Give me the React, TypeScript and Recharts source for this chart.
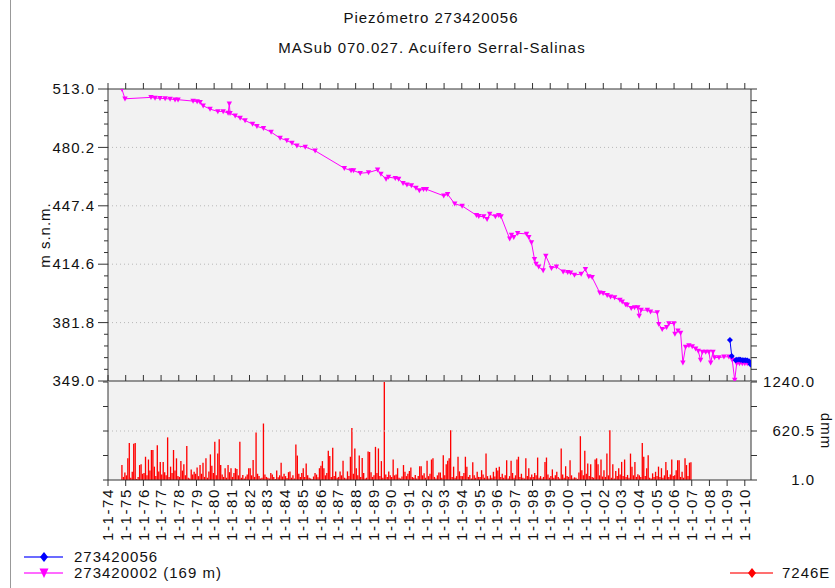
import React from 'react';
import { LineChart, Line, BarChart, Bar, XAxis, YAxis, ReferenceLine } from 'recharts';

// ---------- data ----------
const yearTicks = [
  1974, 1975, 1976, 1977, 1978, 1979, 1980, 1981, 1982, 1983, 1984, 1985, 1986,
  1987, 1988, 1989, 1990, 1991, 1992, 1993, 1994, 1995, 1996, 1997, 1998, 1999,
  2000, 2001, 2002, 2003, 2004, 2005, 2006, 2007, 2008, 2009, 2010,
];
const levelMajor = [349.0, 381.8, 414.6, 447.4, 480.2, 513.0];
const rainMajor = [1.0, 620.5, 1240.0];

// Piezómetro 273420002 (169 m): [fecha decimal, cota m s.n.m.]
const piezo002 = [
  [1974.79, 512.8], [1974.96, 507.5], [1976.43, 508.3], [1976.66, 507.9], [1976.94, 507.8],
  [1977.23, 507.6], [1977.51, 507.4], [1977.79, 507.0], [1977.96, 507.0], [1978.81, 506.2],
  [1979.04, 506.0], [1979.21, 505.6], [1979.38, 503.6], [1979.77, 501.7], [1980.21, 500.4],
  [1980.51, 500.4], [1980.79, 499.5], [1980.86, 504.7], [1980.9, 499.3], [1981.19, 498.0],
  [1981.47, 496.7], [1981.75, 495.3], [1982.17, 493.3], [1982.42, 492.0], [1982.79, 490.9],
  [1983.22, 488.8], [1983.73, 485.4], [1984.11, 484.1], [1984.4, 482.6], [1984.68, 481.1],
  [1985.15, 480.4], [1985.71, 478.3], [1987.36, 468.5], [1987.74, 467.2], [1987.88, 467.2],
  [1988.26, 465.7], [1988.73, 466.1], [1989.24, 467.6], [1989.43, 465.2], [1989.72, 462.4],
  [1989.86, 463.5], [1990.24, 462.9], [1990.43, 462.4], [1990.68, 460.1], [1990.9, 459.2],
  [1991.15, 458.8], [1991.41, 457.3], [1991.6, 456.0], [1991.84, 456.7], [1992.0, 456.7],
  [1992.98, 453.0], [1993.2, 453.9], [1993.6, 448.5], [1994.02, 447.3], [1994.83, 442.1],
  [1994.96, 441.5], [1995.24, 441.3], [1995.43, 439.8], [1995.58, 442.8], [1995.9, 441.3],
  [1996.09, 442.1], [1996.22, 441.3], [1996.71, 428.8], [1996.81, 431.0], [1996.94, 429.7],
  [1997.16, 432.0], [1997.66, 431.6], [1997.79, 429.7], [1997.94, 426.7], [1998.11, 417.4],
  [1998.2, 414.7], [1998.35, 413.2], [1998.6, 411.0], [1998.75, 419.2], [1999.07, 412.3],
  [1999.35, 413.2], [1999.73, 410.4], [1999.99, 410.0], [2000.15, 409.8], [2000.37, 408.5],
  [2000.75, 409.1], [2000.99, 411.7], [2001.18, 407.6], [2001.37, 407.2], [2001.8, 398.6],
  [2001.99, 398.2], [2002.22, 397.1], [2002.41, 396.3], [2002.64, 395.8], [2002.94, 394.5],
  [2003.07, 393.5], [2003.26, 392.0], [2003.35, 391.6], [2003.58, 389.8], [2003.77, 390.3],
  [2003.95, 390.3], [2004.03, 385.5], [2004.14, 388.8], [2004.49, 388.8], [2004.67, 387.9],
  [2005.05, 387.5], [2005.14, 380.9], [2005.33, 378.0], [2005.58, 379.1], [2005.71, 381.3],
  [2005.99, 381.3], [2006.05, 375.3], [2006.22, 377.2], [2006.37, 376.0], [2006.5, 359.2],
  [2006.65, 368.0], [2006.84, 368.9], [2007.03, 368.4], [2007.22, 367.1], [2007.37, 365.8],
  [2007.5, 360.7], [2007.6, 365.3], [2007.79, 365.3], [2007.97, 365.3], [2008.07, 359.2],
  [2008.2, 365.3], [2008.29, 362.2], [2008.54, 362.2], [2008.82, 362.6], [2009.1, 362.6],
  [2009.29, 360.7], [2009.43, 349.5], [2009.54, 358.8], [2009.7, 358.8], [2009.86, 358.8],
  [2010.0, 358.8], [2010.14, 358.8], [2010.29, 358.5],
];

// Piezómetro 273420056
const piezo056 = [
  [2009.16, 372.0], [2009.26, 363.0], [2009.48, 360.7], [2009.55, 360.9], [2009.67, 361.1],
  [2009.76, 361.0], [2009.86, 360.7], [2009.95, 360.6], [2010.05, 360.7], [2010.14, 360.5],
  [2010.24, 360.1], [2010.33, 358.3],
];

// Pluviómetro 7246E, dmm mensuales (desde octubre 1974)
const rainFirstMonth = 9;
const r1974 = [190, 40, 95];
const r1975 = [60, 275, 470, 30, 105, 460, 470, 15, 40, 190, 200, 80];
const r1976 = [90, 295, 60, 260, 120, 380, 380, 170, 50, 440, 110, 230];
const r1977 = [70, 230, 100, 60, 540, 40, 170, 90, 380, 120, 275, 50];
const r1978 = [40, 240, 120, 200, 60, 430, 30, 20, 135, 70, 105, 80];
const r1979 = [160, 50, 190, 80, 220, 40, 275, 30, 110, 325, 180, 90];
const r1980 = [485, 60, 335, 515, 190, 70, 40, 150, 30, 190, 100, 150];
const r1981 = [40, 90, 150, 140, 60, 485, 30, 65, 20, 45, 70, 150];
const r1982 = [150, 60, 255, 40, 600, 80, 50, 20, 30, 715, 70, 40];
const r1983 = [30, 20, 90, 70, 40, 15, 120, 35, 60, 220, 45, 80];
const r1984 = [50, 25, 100, 110, 30, 60, 20, 450, 310, 80, 40, 90];
const r1985 = [150, 40, 210, 60, 30, 20, 10, 45, 90, 70, 35, 150];
const r1986 = [180, 240, 150, 60, 90, 370, 305, 40, 410, 50, 110, 30];
const r1987 = [40, 110, 60, 245, 30, 20, 110, 50, 295, 660, 80, 400];
const r1988 = [150, 60, 310, 40, 280, 90, 20, 30, 360, 355, 100, 40];
const r1989 = [60, 420, 90, 400, 50, 240, 30, 1240, 70, 40, 110, 60];
const r1990 = [40, 260, 60, 70, 150, 30, 20, 45, 190, 105, 50, 80];
const r1991 = [115, 160, 40, 30, 65, 20, 50, 175, 175, 60, 85, 30];
const r1992 = [245, 50, 80, 260, 275, 40, 20, 60, 95, 95, 30, 315];
const r1993 = [60, 200, 245, 275, 630, 40, 170, 30, 50, 295, 110, 50];
const r1994 = [50, 90, 295, 170, 40, 65, 20, 225, 60, 30, 105, 40];
const r1995 = [40, 125, 70, 30, 335, 50, 20, 60, 30, 105, 45, 155];
const r1996 = [120, 170, 40, 80, 30, 60, 250, 20, 50, 245, 90, 30];
const r1997 = [60, 260, 295, 40, 80, 30, 20, 275, 50, 150, 35, 70];
const r1998 = [40, 90, 60, 285, 30, 50, 20, 40, 230, 285, 70, 30];
const r1999 = [50, 135, 30, 60, 105, 40, 20, 400, 70, 30, 175, 50];
const r2000 = [40, 250, 60, 20, 35, 30, 15, 95, 555, 125, 60, 370];
const r2001 = [80, 210, 50, 200, 40, 30, 260, 275, 200, 60, 260, 45];
const r2002 = [125, 40, 335, 60, 630, 30, 200, 20, 115, 50, 150, 70];
const r2003 = [230, 50, 260, 40, 65, 30, 335, 170, 60, 230, 40, 75];
const r2004 = [60, 40, 470, 295, 50, 150, 315, 30, 20, 85, 40, 105];
const r2005 = [50, 170, 40, 150, 30, 60, 230, 125, 40, 70, 260, 50];
const r2006 = [60, 125, 250, 250, 40, 105, 30, 275, 190, 50, 220, 225];

const rainMonthly = [
  ...r1974, ...r1975, ...r1976, ...r1977, ...r1978, ...r1979, ...r1980, ...r1981,
  ...r1982, ...r1983, ...r1984, ...r1985, ...r1986, ...r1987, ...r1988, ...r1989,
  ...r1990, ...r1991, ...r1992, ...r1993, ...r1994, ...r1995, ...r1996, ...r1997,
  ...r1998, ...r1999, ...r2000, ...r2001, ...r2002, ...r2003, ...r2004, ...r2005, ...r2006,
];

// ---------- derived tables ----------
const data002 = piezo002.map(([t, v]) => ({ t, v }));
const data056 = piezo056.map(([t, v]) => ({ t, v }));
const rainData = rainMonthly.map((p, i) => ({ t: 1974 + (rainFirstMonth + i + 0.5) / 12, p }));

const withMinor = (majors: number[], parts: number) => {
  const out: number[] = [];
  for (let i = 0; i < majors.length - 1; i++) {
    const a = majors[i];
    const b = majors[i + 1];
    for (let k = 0; k < parts; k++) out.push(+(a + ((b - a) * k) / parts).toFixed(4));
  }
  out.push(majors[majors.length - 1]);
  return out;
};
const levelTicks = withMinor(levelMajor, 5);
const rainTicks = withMinor(rainMajor, 2);
const isMajor = (v: number, majors: number[]) => majors.some((m) => Math.abs(m - v) < 1e-3);

// ---------- layout / style ----------
const W = 835;
const H = 588;
const PL = 108;
const PR = 751;
const PT = 89;
const PM = 381;
const PB = 480;
const FONT = '"Liberation Sans", Arial, Helvetica, sans-serif';
const AX = '#333';
const TXT = '#111';
const FS = 15;
const LS = 1;
const X_DOMAIN: [number, number] = [1974, 2010.35];

// ---------- ticks ----------
const LevelLeftTick = (props: any) => {
  const { x, y, payload } = props;
  const major = isMajor(payload.value, levelMajor);
  return (
    <g>
      <line x1={x - (major ? 10 : 4)} x2={x} y1={y} y2={y} stroke={AX} />
      {major && (
        <text x={x - 13} y={y} dy="0.35em" textAnchor="end" fontSize={FS} letterSpacing={LS} fill={TXT} fontFamily={FONT}>
          {payload.value.toFixed(1)}
        </text>
      )}
    </g>
  );
};
const RightOutTick = (props: any) => {
  const { x, y } = props;
  return <line x1={x} x2={x + 6} y1={y} y2={y} stroke={AX} />;
};
const LeftOutTick = (props: any) => {
  const { x, y } = props;
  return <line x1={x - 5} x2={x} y1={y} y2={y} stroke={AX} />;
};
const RainRightTick = (props: any) => {
  const { x, y, payload } = props;
  const major = isMajor(payload.value, rainMajor);
  return (
    <g>
      <line x1={x} x2={x + 6} y1={y} y2={y} stroke={AX} />
      {major && (
        <text x={815} y={y} dy="0.35em" textAnchor="end" fontSize={FS} letterSpacing={LS} fill={TXT} fontFamily={FONT}>
          {payload.value.toFixed(1)}
        </text>
      )}
    </g>
  );
};
const TopOutTick = (props: any) => {
  const { x, y } = props;
  return <line x1={x} x2={x} y1={y - 6} y2={y} stroke={AX} />;
};
const DateTick = (props: any) => {
  const { x, y, payload } = props;
  return (
    <g>
      <line x1={x} x2={x} y1={y} y2={y + 6} stroke={AX} />
      <text
        transform={`translate(${x},${y + 8}) rotate(-90)`}
        textAnchor="end"
        dy="0.35em"
        fontSize={FS}
        letterSpacing={1.6}
        fill={TXT}
        fontFamily={FONT}
      >
        {`1-1-${String(payload.value).slice(2)}`}
      </text>
    </g>
  );
};

// ---------- markers ----------
const TriDot = (props: any) => {
  const { cx, cy, key } = props;
  if (cx == null || cy == null) return <g key={key} />;
  return <polygon key={key} points={`${cx - 2.7},${cy - 2.3} ${cx + 2.7},${cy - 2.3} ${cx},${cy + 2.7}`} fill="#ff00ff" />;
};
const DiaDot = (props: any) => {
  const { cx, cy, key } = props;
  if (cx == null || cy == null) return <g key={key} />;
  return <polygon key={key} points={`${cx},${cy - 3} ${cx + 3},${cy} ${cx},${cy + 3} ${cx - 3},${cy}`} fill="#0000ff" />;
};

const textStyle = { fontFamily: FONT, fontSize: FS, letterSpacing: LS, fill: TXT } as const;

export default function App() {
  return (
    <div style={{ position: 'absolute', left: 0, top: 0, width: W, height: H, background: '#fff', overflow: 'hidden' }}>
      <div style={{ position: 'absolute', left: PL, top: PT, width: PR - PL, height: PB - PT, background: '#f2f2f2' }} />

      <div style={{ position: 'absolute', left: 0, top: 0 }}>
        <BarChart width={W} height={H} data={rainData} margin={{ top: PM + 1, right: W - PR - 60, bottom: H - PB - 60, left: PL - 60 }}>
          <XAxis
            xAxisId="b"
            type="number"
            dataKey="t"
            domain={X_DOMAIN}
            allowDataOverflow
            ticks={yearTicks}
            interval={0}
            height={60}
            tickSize={0}
            tickMargin={0}
            tickLine={false}
            tick={<DateTick />}
            axisLine={{ stroke: AX }}
          />
          <YAxis
            yAxisId="l"
            type="number"
            domain={[1, 1240]}
            allowDataOverflow
            ticks={rainTicks}
            interval={0}
            width={60}
            tickSize={0}
            tickMargin={0}
            tickLine={false}
            tick={<LeftOutTick />}
            axisLine={{ stroke: AX }}
          />
          <YAxis
            yAxisId="r"
            orientation="right"
            type="number"
            domain={[1, 1240]}
            allowDataOverflow
            ticks={rainTicks}
            interval={0}
            width={60}
            tickSize={0}
            tickMargin={0}
            tickLine={false}
            tick={<RainRightTick />}
            axisLine={{ stroke: AX }}
          />
          <ReferenceLine xAxisId="b" yAxisId="l" y={620.5} stroke="#b8b8b8" strokeDasharray="1 3" />
          <Bar xAxisId="b" yAxisId="l" dataKey="p" fill="#ff0000" barSize={2} isAnimationActive={false} />
        </BarChart>
      </div>

      <div style={{ position: 'absolute', left: 0, top: 0 }}>
        <LineChart width={W} height={H} margin={{ top: PT - 10, right: W - PR - 10, bottom: H - PM - 10, left: PL - 60 }}>
          <XAxis
            xAxisId="top"
            orientation="top"
            type="number"
            dataKey="t"
            domain={X_DOMAIN}
            allowDataOverflow
            ticks={yearTicks}
            interval={0}
            height={10}
            tickSize={0}
            tickMargin={0}
            tickLine={false}
            tick={<TopOutTick />}
            axisLine={{ stroke: AX }}
          />
          <XAxis
            xAxisId="bot"
            type="number"
            dataKey="t"
            domain={X_DOMAIN}
            allowDataOverflow
            ticks={yearTicks}
            interval={0}
            height={10}
            tickSize={0}
            tickMargin={0}
            tickLine={false}
            tick={<TopOutTick />}
            axisLine={{ stroke: AX }}
          />
          <YAxis
            yAxisId="l"
            type="number"
            domain={[349, 513]}
            allowDataOverflow
            ticks={levelTicks}
            interval={0}
            width={60}
            tickSize={0}
            tickMargin={0}
            tickLine={false}
            tick={<LevelLeftTick />}
            axisLine={{ stroke: AX }}
          />
          <YAxis
            yAxisId="r"
            orientation="right"
            type="number"
            domain={[349, 513]}
            allowDataOverflow
            ticks={levelTicks}
            interval={0}
            width={10}
            tickSize={0}
            tickMargin={0}
            tickLine={false}
            tick={<RightOutTick />}
            axisLine={{ stroke: AX }}
          />
          {levelMajor.slice(1, -1).map((v) => (
            <ReferenceLine key={v} xAxisId="bot" yAxisId="l" y={v} stroke="#b8b8b8" strokeDasharray="1 3" />
          ))}
          <Line
            xAxisId="bot"
            yAxisId="l"
            data={data002}
            dataKey="v"
            stroke="#ff00ff"
            strokeWidth={1}
            dot={(p: any) => <TriDot {...p} key={`m${p.index}`} />}
            isAnimationActive={false}
          />
          <Line
            xAxisId="bot"
            yAxisId="l"
            data={data056}
            dataKey="v"
            stroke="#0000ff"
            strokeWidth={1}
            dot={(p: any) => <DiaDot {...p} key={`b${p.index}`} />}
            isAnimationActive={false}
          />
        </LineChart>
      </div>

      <svg width={W} height={H} style={{ position: 'absolute', left: 0, top: 0, pointerEvents: 'none' }}>
        <line x1={10.5} x2={10.5} y1={0} y2={H} stroke="#999" />
        <text x={431} y={23} textAnchor="middle" style={textStyle}>Piezómetro 273420056</text>
        <text x={432} y={53} textAnchor="middle" style={textStyle}>MASub 070.027. Acuífero Serral-Salinas</text>
        <text transform="translate(45,235) rotate(-90)" textAnchor="middle" dy="0.35em" style={textStyle}>m s.n.m.</text>
        <text transform="translate(826,431) rotate(90)" textAnchor="middle" dy="0.35em" style={textStyle}>dmm</text>

        <line x1={24} x2={63} y1={557} y2={557} stroke="#6b6bff" strokeWidth={2} />
        <polygon points="44,552 48,557 44,562 40,557" fill="#0000ff" />
        <text x={74} y={562} style={textStyle}>273420056</text>

        <line x1={24} x2={63} y1={573} y2={573} stroke="#ff6bff" strokeWidth={2} />
        <polygon points="39.5,568.5 48.5,568.5 44,578" fill="#ff00ff" />
        <text x={74} y={578} style={textStyle}>273420002 (169 m)</text>

        <line x1={730} x2={773} y1={573} y2={573} stroke="#ff7070" strokeWidth={2} />
        <polygon points="752,568 756,573 752,578 748,573" fill="#ff0000" />
        <text x={782} y={578} style={textStyle}>7246E</text>
      </svg>
    </div>
  );
}
